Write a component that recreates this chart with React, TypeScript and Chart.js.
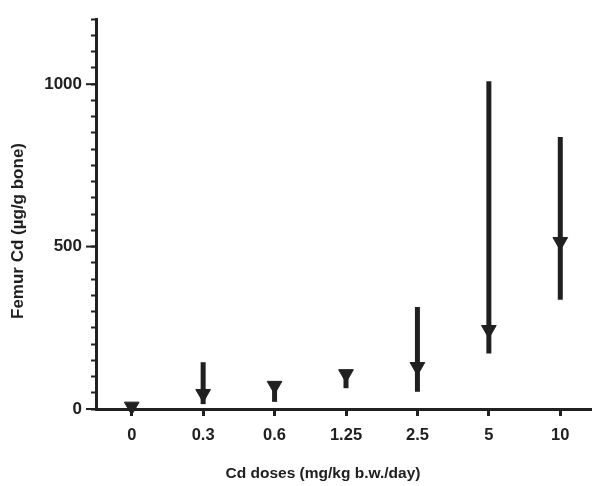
import React, { useEffect, useRef } from "react";
import { Chart, registerables } from "chart.js";

Chart.register(...registerables);

const doses = ["0", "0.3", "0.6", "1.25", "2.5", "5", "10"];
const means = [8, 47, 72, 108, 130, 244, 515];
const lowers = [0, 15, 22, 64, 53, 171, 336];
const uppers = [10, 144, 80, 115, 314, 1009, 837];
const yMajorTicks = [0, 500, 1000];
const yTitle = "Femur Cd (µg/g bone)";
const xTitle = "Cd doses (mg/kg b.w./day)";

const INK = "#202020";
const FONT = "'Liberation Sans', Arial, sans-serif";

const decorPlugin = {
  id: "decor",
  beforeDatasetsDraw(chart: any) {
    const ctx = chart.ctx;
    const x = chart.scales.x;
    const y = chart.scales.y;
    ctx.save();
    ctx.strokeStyle = INK;
    ctx.lineWidth = 5;
    ctx.lineCap = "butt";
    for (let i = 0; i < doses.length; i++) {
      const px = x.getPixelForValue(i);
      ctx.beginPath();
      ctx.moveTo(px, y.getPixelForValue(uppers[i]));
      ctx.lineTo(px, y.getPixelForValue(lowers[i]));
      ctx.stroke();
    }
    ctx.restore();
  },
  afterDraw(chart: any) {
    const ctx = chart.ctx;
    const y = chart.scales.y;
    const left = chart.chartArea.left;
    ctx.save();
    ctx.strokeStyle = INK;
    ctx.lineWidth = 2;
    for (const v of yMajorTicks) {
      const py = y.getPixelForValue(v);
      ctx.beginPath();
      ctx.moveTo(left - 10, py);
      ctx.lineTo(left, py);
      ctx.stroke();
    }
    ctx.fillStyle = INK;
    ctx.textAlign = "center";
    ctx.textBaseline = "middle";
    ctx.font = `bold 15.5px ${FONT}`;
    ctx.fillText(xTitle, 323, 474);
    ctx.translate(18, 231);
    ctx.rotate(-Math.PI / 2);
    ctx.font = `bold 17px ${FONT}`;
    ctx.fillText(yTitle, 0, 0);
    ctx.restore();
  },
};

export default function App() {
  const ref = useRef<HTMLCanvasElement | null>(null);
  useEffect(() => {
    const canvas = ref.current;
    if (!canvas) return;
    const chart = new Chart(canvas, {
      type: "line",
      data: {
        labels: doses,
        datasets: [
          {
            data: means,
            showLine: false,
            pointStyle: "triangle",
            rotation: 180,
            pointRadius: 8.5,
            pointHoverRadius: 8.5,
            pointBackgroundColor: INK,
            pointBorderColor: INK,
            pointBorderWidth: 1,
            clip: false as any,
          },
        ],
      },
      options: {
        responsive: false,
        animation: false,
        events: [],
        layout: { autoPadding: false, padding: { top: 17, left: 0, right: 0, bottom: 0 } },
        plugins: {
          legend: { display: false },
          tooltip: { enabled: false },
          title: { display: false },
        },
        scales: {
          x: {
            type: "category",
            offset: true,
            afterFit: (s: any) => {
              s.height = 77;
              s.paddingLeft = 0;
              s.paddingRight = 0;
            },
            grid: {
              offset: false,
              drawOnChartArea: false,
              drawTicks: true,
              tickLength: 7,
              tickWidth: 3,
              tickColor: INK,
            },
            border: { display: true, color: INK, width: 3 },
            ticks: {
              color: INK,
              padding: 10,
              maxRotation: 0,
              autoSkip: false,
              font: { family: FONT, size: 16.5, weight: "bold" },
            },
          },
          y: {
            min: 0,
            max: 1200,
            afterFit: (s: any) => {
              s.width = 96;
            },
            grid: {
              drawOnChartArea: false,
              drawTicks: true,
              tickLength: 5,
              tickWidth: 2,
              tickColor: INK,
            },
            border: { display: true, color: INK, width: 3 },
            ticks: {
              stepSize: 50,
              autoSkip: false,
              color: INK,
              padding: 9,
              font: { family: FONT, size: 17, weight: "bold" },
              callback: (v: any) => (yMajorTicks.includes(Number(v)) ? String(v) : ""),
            },
          },
        },
      },
      plugins: [decorPlugin],
    });
    return () => chart.destroy();
  }, []);
  return (
    <div style={{ position: "absolute", left: 0, top: 0, width: 592, height: 486, overflow: "hidden", background: "#fff" }}>
      <canvas ref={ref} width={596} height={486} style={{ display: "block" }} />
    </div>
  );
}
